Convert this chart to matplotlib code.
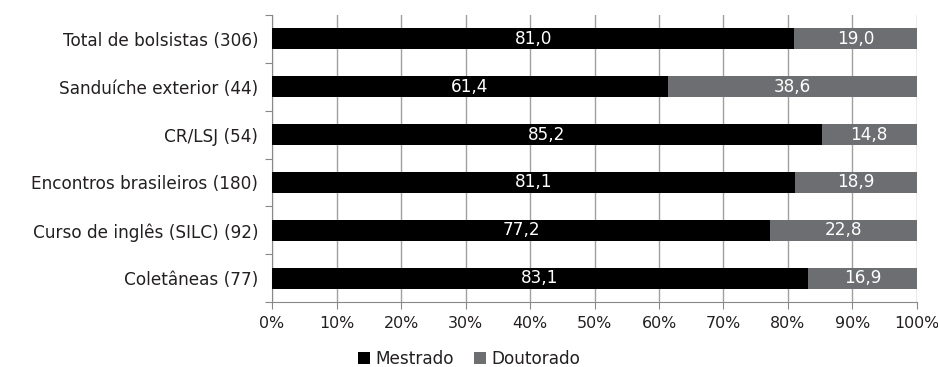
import matplotlib.pyplot as plt
import numpy as np

plt.rcParams['font.family'] = ['DejaVu Sans']

categorias = ['Total de bolsistas (306)', 'Sanduíche exterior (44)', 'CR/LSJ (54)',
              'Encontros brasileiros (180)', 'Curso de inglês (SILC) (92)', 'Coletâneas (77)']
mestrado = [81.0, 61.4, 85.2, 81.1, 77.2, 83.1]
doutorado = [19.0, 38.6, 14.8, 18.9, 22.8, 16.9]

cor_m = '#000000'
cor_d = '#6d6e71'
cor_txt = '#231f20'
fs = 12.2

fig = plt.figure(figsize=(9.38, 3.67), dpi=100)
ax = fig.add_axes([0.29, 0.177, 0.6876, 0.782])

y = np.arange(len(categorias))
bm = ax.barh(y, mestrado, height=0.44, color=cor_m, label='Mestrado', zorder=3)
bd = ax.barh(y, doutorado, left=mestrado, height=0.44, color=cor_d, label='Doutorado', zorder=3)

def fmt(v):
    return ('%.1f' % v).replace('.', ',')

for i in range(len(categorias)):
    ax.text(mestrado[i] / 2, y[i], fmt(mestrado[i]), color='white', ha='center', va='center',
            fontsize=fs, zorder=4)
    ax.text(mestrado[i] + doutorado[i] / 2, y[i], fmt(doutorado[i]), color='white', ha='center',
            va='center', fontsize=fs, zorder=4)

ax.set_xlim(0, 100)
ax.set_ylim(len(categorias) - 0.5, -0.5)
ax.set_xticks(np.arange(0, 101, 10))
ax.set_xticklabels(['%d%%' % v for v in range(0, 101, 10)])
ax.set_yticks(np.arange(-0.5, len(categorias), 1), minor=False)
ax.set_yticklabels([])
ax.set_yticks(y, minor=True)
ax.set_yticklabels(categorias, minor=True)
ax.tick_params(axis='y', which='minor', length=0, labelsize=fs, labelcolor=cor_txt, pad=10)
ax.tick_params(axis='y', which='major', length=5, color='#888888', direction='out')
ax.tick_params(axis='x', length=5, color='#888888', labelsize=11.4, labelcolor=cor_txt, pad=5)

ax.grid(axis='x', color='#a0a0a0', linewidth=1, zorder=0)
for s in ['top', 'right']:
    ax.spines[s].set_visible(False)
ax.spines['left'].set_color('#888888')
ax.spines['bottom'].set_color('#888888')

fig.legend(handles=[bm, bd], loc='lower center', bbox_to_anchor=(0.5, -0.045), ncol=2, frameon=False,
           fontsize=fs, handlelength=0.7, handleheight=0.7, handletextpad=0.3, columnspacing=1.2,
           labelcolor=cor_txt)

fig.savefig('out.png', dpi=100)
